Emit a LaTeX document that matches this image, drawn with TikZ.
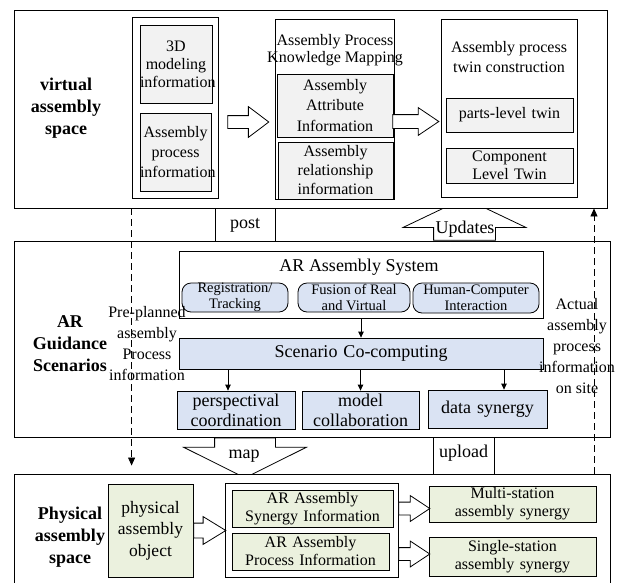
\documentclass[tikz,border=0pt]{standalone}
\usepackage{fontspec}
\setmainfont{Liberation Serif}
\usepackage{tikz}
\usetikzlibrary{shapes.arrows, arrows.meta, calc, backgrounds}
\usepackage{xcolor}
\definecolor{boxgray}{RGB}{242, 242, 242}
\definecolor{boxblue}{RGB}{218, 227, 243}
\definecolor{boxgreen}{RGB}{235, 241, 222}

\begin{document}
\begin{tikzpicture}[x=1pt, y=-1pt,
    panel/.style={rectangle, draw, fill=white, line width=0.9pt, inner sep=0pt},
    holder/.style={rectangle, draw, fill=white, line width=0.8pt, inner sep=0pt},
    spacelabel/.style={align=center, inner sep=0pt, font=\fontsize{18}{22}\selectfont\bfseries},
    plain/.style={align=center, inner sep=0pt, font=\fontsize{16}{20}\selectfont},
    biglabel/.style={inner sep=0pt, font=\fontsize{18}{20}\selectfont},
    graybox/.style={rectangle, draw, fill=boxgray, line width=0.8pt, inner sep=0pt, align=center, font=\fontsize{16}{19}\selectfont},
    bluebox/.style={rectangle, draw, fill=boxblue, line width=0.8pt, inner sep=0pt, align=center, font=\fontsize{18}{20}\selectfont},
    greenbox/.style={rectangle, draw, fill=boxgreen, line width=0.8pt, inner sep=0pt, align=center, font=\fontsize{16}{18}\selectfont},
    pill/.style={rectangle, rounded corners=9pt, draw, fill=boxblue, line width=0.8pt, inner sep=0pt, align=center, font=\fontsize{14.5}{16}\selectfont},
    fatarrow/.style={single arrow, draw, fill=white, line width=0.8pt, inner xsep=0pt, single arrow head indent=0pt},
    flow/.style={-{Triangle[length=6pt, width=5.5pt]}, line width=0.8pt},
    dashflow/.style={-{Triangle[length=8pt, width=7pt]}, line width=0.8pt, dash pattern=on 7pt off 4pt}
]
    \useasboundingbox (0,0) rectangle (618,582);

    % The three spaces
    \node[panel, minimum width=593pt, minimum height=198pt] (vspace) at (310.5,109) {};
    \node[panel, minimum width=596pt, minimum height=196pt] (arspace) at (312,339) {};
    \node[panel, minimum width=596pt, minimum height=120pt] (pspace) at (312,534) {};

    % Big arrows between the spaces, kept behind the panels
    \begin{scope}[on background layer]
        \node[fatarrow, rotate=90, minimum height=42pt, inner ysep=30.5pt, single arrow head extend=30.5pt, single arrow tip angle=129, anchor=tail] (updarrow) at ($(arspace.north)+(152.5,0)$) {};
        \node[fatarrow, rotate=-90, minimum height=40pt, inner ysep=30pt, single arrow head extend=31pt, single arrow tip angle=127, anchor=tail] (maparrow) at ($(arspace.south)+(-67,0)$) {};
    \end{scope}
    \node[biglabel] (updates) at (465,229) {Updates};
    \node[biglabel] (map) at (244,456) {map};

    % post / upload links
    \coordinate (postl) at (215,0);
    \coordinate (postr) at (275,0);
    \draw[line width=0.8pt] (postl |- vspace.south) -- (postl |- arspace.north);
    \draw[line width=0.8pt] (postr |- vspace.south) -- (postr |- arspace.north);
    \node[biglabel] (post) at (245,225) {post};
    \coordinate (uplol) at (433,0);
    \coordinate (uplor) at (494,0);
    \draw[line width=0.8pt] (uplol |- arspace.south) -- (uplol |- pspace.north);
    \draw[line width=0.8pt] (uplor |- arspace.south) -- (uplor |- pspace.north);
    \node[biglabel] (upload) at (463.5,453) {upload};

    % Virtual assembly space
    \node[spacelabel] (vlabel) at (66,108) {virtual\\assembly\\space};
    \node[holder, minimum width=86pt, minimum height=181pt] (srccol) at (175,107.5) {};
    \node[graybox, text width=72pt, minimum height=78pt, font=\fontsize{16}{18}\selectfont] (model3d) at (176,64) {3D\\modeling\\information};
    \node[graybox, text width=71pt, minimum height=78pt, font=\fontsize{16}{20}\selectfont] (procinfo) at (175.5,152) {Assembly\\process\\information};
    \node[holder, minimum width=119pt, minimum height=180pt] (kmap) at (334.5,109) {};
    \node[plain, font=\fontsize{16}{17}\selectfont] (kmaptitle) at (335,50) {Assembly Process\\Knowledge Mapping};
    \node[graybox, text width=116pt, minimum height=63pt, font=\fontsize{16}{20.5}\selectfont] (attr) at (335,105.5) {Assembly\\Attribute\\Information};
    \node[graybox, text width=115pt, minimum height=57pt] (rel) at (335.5,170.5) {Assembly\\relationship\\information};
    \node[holder, minimum width=136pt, minimum height=178pt] (twin) at (509,108) {};
    \node[plain] (twintitle) at (509,57) {Assembly process\\twin construction};
    \node[graybox, text width=127pt, minimum height=34pt] (parts) at (509.5,115) {parts-level twin};
    \node[graybox, text width=127pt, minimum height=35pt, font=\fontsize{16}{18}\selectfont] (comp) at (509.5,165.5) {Component\\Level Twin};
    \node[fatarrow, minimum height=41pt, inner ysep=6pt, single arrow head extend=9pt, single arrow tip angle=74, anchor=tail] (tokmap) at ($(srccol.east)+(9,14.5)$) {};
    \node[fatarrow, minimum height=46pt, inner ysep=6.5pt, single arrow head extend=7pt, single arrow tip angle=68, anchor=tail] (totwin) at ($(kmap.east)+(-2,12.5)$) {};

    % AR guidance scenarios
    \node[spacelabel] (glabel) at (70,344) {AR\\Guidance\\Scenarios};
    \node[holder, minimum width=364pt, minimum height=67pt] (arsys) at (361,284.5) {};
    \node[biglabel] (arsystitle) at (359,267) {AR Assembly System};
    \node[pill, minimum width=106pt, minimum height=29pt] (reg) at (235,297.5) {Registration/\\Tracking};
    \node[pill, minimum width=112pt, minimum height=29pt] (fusion) at (354,297.5) {Fusion of Real\\and Virtual};
    \node[pill, minimum width=126pt, minimum height=30pt] (hci) at (476,298) {Human-Computer\\Interaction};
    \node[bluebox, text width=364pt, minimum height=31pt] (scen) at (361,353.5) {Scenario Co-computing};
    \node[bluebox, text width=118pt, minimum height=38pt] (persp) at (236,410) {perspectival\\coordination};
    \node[bluebox, text width=117pt, minimum height=38pt] (collab) at (360.5,410) {model\\collaboration};
    \node[bluebox, text width=119pt, minimum height=38pt] (synergy) at (487.5,409) {data synergy};
    \coordinate (pdrop) at ([xshift=-8pt]persp.north);
    \coordinate (sdrop) at ([xshift=16.5pt]synergy.north);
    \draw[flow] (arsys.south) -- (scen.north);
    \draw[flow] (pdrop |- scen.south) -- (pdrop);
    \draw[flow] (scen.south -| collab.north) -- (collab.north);
    \draw[flow] (sdrop |- scen.south) -- (sdrop);

    % Information exchanged across the spaces
    \draw[dashflow] (srccol.west |- vspace.south) -- ($(srccol.west |- pspace.north)+(0,-8)$);
    \coordinate (siteline) at (594,0);
    \draw[dashflow] (siteline |- pspace.north) -- (siteline |- vspace.south);
    \node[plain, font=\fontsize{16}{21}\selectfont] (preplan) at (147,344) {Pre-planned\\assembly\\Process\\information};
    \node[plain, font=\fontsize{16}{21}\selectfont] (actual) at (577,346) {Actual\\assembly\\process\\information\\on site};

    % Physical assembly space
    \node[spacelabel] (plabel) at (70,537) {Physical\\assembly\\space};
    \node[greenbox, text width=85pt, minimum height=93pt, font=\fontsize{17.5}{21.5}\selectfont] (physobj) at (150.5,530.5) {physical\\assembly\\object};
    \node[holder, minimum width=173pt, minimum height=94pt] (arinfo) at (311.5,530) {};
    \node[greenbox, text width=161pt, minimum height=37pt] (syninfo) at (312.5,508.5) {AR Assembly\\Synergy Information};
    \node[greenbox, text width=157pt, minimum height=37pt] (procinfo2) at (310.5,551.5) {AR Assembly\\Process Information};
    \node[greenbox, text width=167pt, minimum height=36pt] (multi) at (512.5,504) {Multi-station\\assembly synergy};
    \node[greenbox, text width=167pt, minimum height=39pt] (single) at (512.5,556.5) {Single-station\\assembly synergy};
    \node[fatarrow, minimum height=32pt, inner ysep=7pt, single arrow head extend=6.5pt, single arrow tip angle=63, anchor=tail] (toinfo) at (physobj.east) {};
    \node[fatarrow, minimum height=31pt, inner ysep=6pt, single arrow head extend=6.5pt, single arrow tip angle=67, anchor=tail] (tomulti) at (arinfo.east |- syninfo.east) {};
    \node[fatarrow, minimum height=31pt, inner ysep=6pt, single arrow head extend=6.5pt, single arrow tip angle=67, anchor=tail] (tosingle) at ($(arinfo.east |- procinfo2.east)+(0,2.5)$) {};
\end{tikzpicture}
\end{document}
